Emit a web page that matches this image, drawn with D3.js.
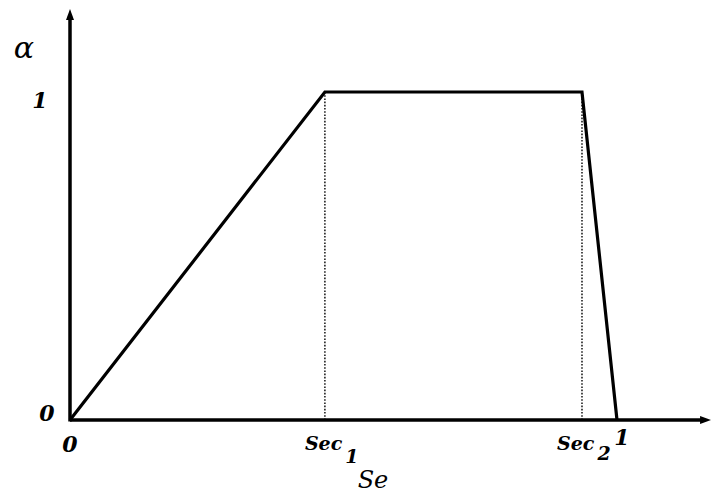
<!DOCTYPE html>
<html><head><meta charset="utf-8">
<script src="https://cdn.jsdelivr.net/npm/d3@7/dist/d3.min.js"></script>
<style>body{margin:0;background:#fff}svg{display:block}
.serif{font-family:"DejaVu Serif",serif}</style>
</head><body>
<svg id="c" width="711" height="495"></svg>
<script>
const seValues = [0, 0.466, 0.936, 1];
const alphaValues = [0, 1, 1, 0];
const xTickValues = [0, 0.466, 0.936, 1];
const xTickLabels = ["0", "Sec", "Sec", "1"];
const xTickSubs = ["", "1", "2", ""];
const yTickValues = [0, 1];
const yTickLabels = ["0", "1"];

const svg = d3.select("#c");
const x = d3.scaleLinear().domain([0, 1]).range([70, 617]);
const y = d3.scaleLinear().domain([0, 1]).range([420, 92]);
const xMax = 1.172, yMax = 1.253;

// axes
svg.append("line").attr("x1", x(0)).attr("x2", x(xMax) - 8).attr("y1", y(0)).attr("y2", y(0))
  .attr("stroke", "#000").attr("stroke-width", 3.5);
svg.append("line").attr("x1", x(0)).attr("x2", x(0)).attr("y1", y(0) + 1.5).attr("y2", y(yMax) + 8)
  .attr("stroke", "#000").attr("stroke-width", 3.5);
svg.append("path").attr("d", `M${x(xMax)},${y(0)} L${x(xMax)-11},${y(0)-4} L${x(xMax)-11},${y(0)+4}Z`).attr("fill", "#000");
svg.append("path").attr("d", `M${x(0)},${y(yMax)} L${x(0)-4},${y(yMax)+11} L${x(0)+4},${y(yMax)+11}Z`).attr("fill", "#000");

// dotted verticals
[1, 2].forEach(i => {
  svg.append("line").attr("x1", x(seValues[i])).attr("x2", x(seValues[i]))
    .attr("y1", y(alphaValues[i])).attr("y2", y(0))
    .attr("stroke", "#000").attr("stroke-width", 1.4).attr("stroke-dasharray", "1.6,1.6");
});

// main curve
const line = d3.line().x((d, i) => x(seValues[i])).y((d, i) => y(d));
svg.append("path").attr("d", line(alphaValues)).attr("fill", "none")
  .attr("stroke", "#000").attr("stroke-width", 3.2).attr("stroke-linejoin", "miter");

// tick labels
const xl = svg.append("g").attr("class", "serif").style("font-weight", "bold")
  .style("font-style", "italic").style("font-size", "22px");
xTickValues.forEach((v, i) => {
  if (xTickSubs[i]) {
    const t = xl.append("text").attr("x", x(v) - (i === 1 ? 20 : 25)).attr("y", 450).style("font-size", "19px");
    t.append("tspan").text(xTickLabels[i]);
    t.append("tspan").attr("dx", 3).attr("dy", i === 1 ? 13 : 10).style("font-size", "19px").text(xTickSubs[i]);
  } else {
    xl.append("text").attr("x", x(v) + (i === 3 ? 5 : 0)).attr("y", i === 3 ? 445 : 452)
      .attr("text-anchor", "middle").text(xTickLabels[i]);
  }
});
yTickValues.forEach((v, i) => {
  xl.append("text").attr("x", i === 1 ? 40 : 47).attr("y", y(v) + (i === 1 ? 16 : 1))
    .attr("text-anchor", "middle").text(yTickLabels[i]);
});

// axis titles
svg.append("text").attr("class", "serif").attr("x", 373).attr("y", 488).attr("text-anchor", "middle")
  .style("font-style", "italic").style("font-size", "24px").text("Se");
svg.append("text").attr("class", "serif").attr("x", 24).attr("y", 58).attr("text-anchor", "middle")
  .style("font-style", "italic").style("font-size", "30px").text("α");
</script>
</body></html>
